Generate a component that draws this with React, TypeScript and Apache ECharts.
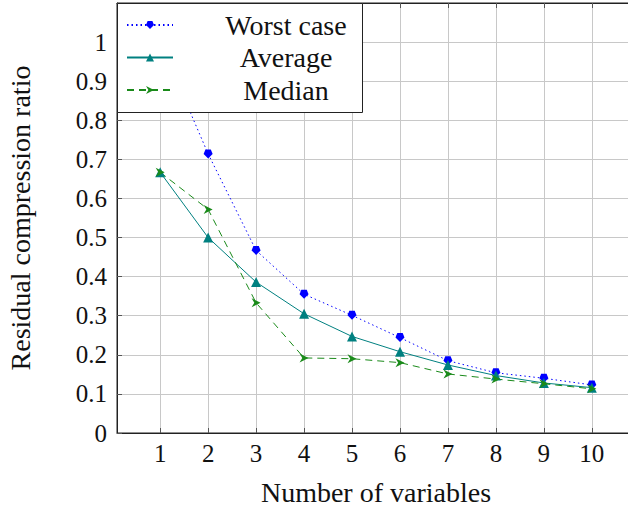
import React, { useEffect, useRef } from "react";
import * as echarts from "echarts";

const xValues = [1, 2, 3, 4, 5, 6, 7, 8, 9, 10];
const worstCase = [1.0, 0.714, 0.467, 0.355, 0.301, 0.244, 0.185, 0.154, 0.14, 0.123];
const average = [0.667, 0.5, 0.386, 0.305, 0.247, 0.208, 0.174, 0.147, 0.128, 0.116];
const median = [0.667, 0.572, 0.333, 0.192, 0.19, 0.18, 0.151, 0.138, 0.126, 0.113];
const seriesNames = ["Worst case", "Average", "Median"];

const FONT = "Liberation Serif";
const FS_TICK = 25;
const FS_TEXT = 28;

export default function App() {
  const ref = useRef<HTMLDivElement>(null);
  useEffect(() => {
    if (!ref.current) return;
    const chart = echarts.init(ref.current, undefined, { renderer: "svg" });
    const toPairs = (arr: number[]) => xValues.map((x, i) => [x, arr[i]]);
    const gridColor = "#c8c8c8";
    const tickColor = "#555";
    chart.setOption({
      animation: false,
      backgroundColor: "#fff",
      grid: {
        left: 117,
        top: 3,
        width: 518,
        height: 430,
        outerBoundsMode: "none",
        containLabel: false,
        show: true,
        borderColor: "#222",
        borderWidth: 1,
        backgroundColor: "transparent",
      },
      legend: {
        left: 117,
        top: 11,
        orient: "vertical",
        itemWidth: 46,
        itemHeight: 10,
        itemGap: 4.5,
        padding: [0, 0, 0, 9],
        data: seriesNames,
        formatter: "{t|{name}}",
        textStyle: {
          fontFamily: FONT,
          fontSize: FS_TEXT,
          color: "#111",
          rich: {
            t: {
              width: 216,
              align: "center",
              fontFamily: FONT,
              fontSize: FS_TEXT,
              lineHeight: 28,
              color: "#111",
            },
          },
        },
        z: 10,
      },
      graphic: [
        {
          type: "rect",
          z: 5,
          shape: { x: 117.5, y: 3.5, width: 245, height: 109 },
          style: { fill: "#fff", stroke: "#222", lineWidth: 1 },
        },
      ],
      xAxis: [
        {
          type: "value",
          min: 0.1,
          max: 10.9,
          name: "Number of variables",
          nameLocation: "middle",
          nameGap: 49,
          nameTextStyle: { fontFamily: FONT, fontSize: FS_TEXT, lineHeight: 20, color: "#111" },
          axisLine: { show: true, lineStyle: { color: "#222" } },
          axisTick: {
            show: true,
            inside: true,
            length: 5,
            customValues: xValues,
            lineStyle: { color: tickColor },
          },
          axisLabel: {
            customValues: xValues,
            fontFamily: FONT,
            fontSize: FS_TICK,
            color: "#111",
            margin: 8,
          },
          splitLine: { show: true, lineStyle: { color: gridColor, width: 1 } },
        },
        {
          type: "value",
          position: "top",
          min: 0.1,
          max: 10.9,
          axisLine: { show: true, lineStyle: { color: "#222" } },
          axisTick: {
            show: true,
            inside: true,
            length: 5,
            customValues: xValues,
            lineStyle: { color: tickColor },
          },
          axisLabel: { show: false },
          splitLine: { show: false },
        },
      ],
      yAxis: [
        {
          type: "value",
          min: 0,
          max: 1.1,
          interval: 0.1,
          name: "Residual compression ratio",
          nameLocation: "middle",
          nameGap: 83,
          nameRotate: 90,
          nameTextStyle: { fontFamily: FONT, fontSize: FS_TEXT, color: "#111" },
          axisLine: { show: true, lineStyle: { color: "#222" } },
          axisTick: { show: true, inside: true, length: 5, lineStyle: { color: tickColor } },
          axisLabel: {
            fontFamily: FONT,
            fontSize: FS_TICK,
            color: "#111",
            margin: 10,
            formatter: (v: number) => (v > 1.05 ? "" : String(+v.toFixed(1))),
          },
          splitLine: { show: true, lineStyle: { color: gridColor, width: 1 } },
        },
      ],
      series: [
        {
          name: seriesNames[0],
          type: "line",
          data: toPairs(worstCase),
          symbol: "path://M2,0 L8,0 L10,5 L5,10 L0,5 Z",
          symbolSize: 9,
          itemStyle: { color: "#0000ff" },
          lineStyle: { color: "#0000ff", width: 1, type: [1.5, 3] },
          z: 3,
        },
        {
          name: seriesNames[1],
          type: "line",
          data: toPairs(average),
          symbol: "triangle",
          symbolSize: 10,
          itemStyle: { color: "#008080" },
          lineStyle: { color: "#008080", width: 1 },
          z: 3,
        },
        {
          name: seriesNames[2],
          type: "line",
          data: toPairs(median),
          symbol: "path://M0,0 L10,5 L0,10 L3,5 Z",
          symbolSize: 9,
          itemStyle: { color: "#1a8a1a" },
          lineStyle: { color: "#1a8a1a", width: 1, type: [7, 5] },
          z: 3,
        },
      ],
    });
    return () => chart.dispose();
  }, []);
  return <div ref={ref} style={{ width: 628, height: 506, position: "absolute", left: 0, top: 0 }} />;
}
